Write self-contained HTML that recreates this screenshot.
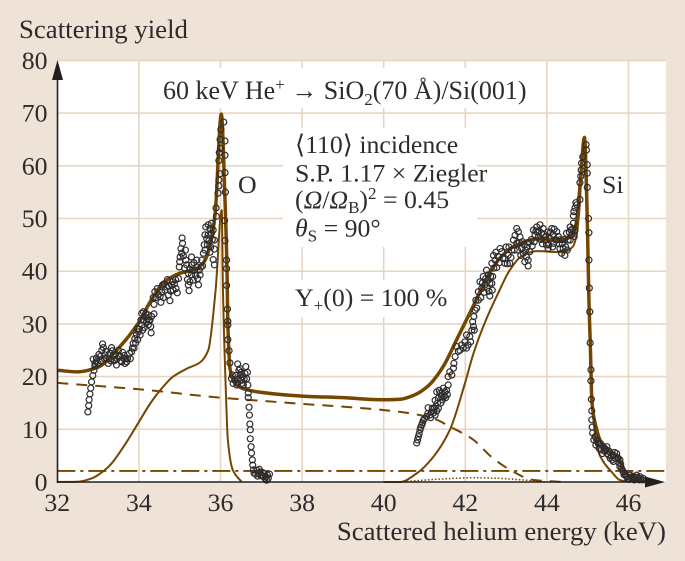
<!DOCTYPE html>
<html lang="en">
<head>
<meta charset="utf-8">
<title>Scattering yield chart</title>
<style>
html,body{margin:0;padding:0;background:#efe3d7;width:685px;height:561px;overflow:hidden}
svg{display:block}
text{font-family:"Liberation Serif","DejaVu Serif",serif;fill:#2f2b2b;font-size:25.8px}
</style>
</head>
<body>
<svg id="chart" width="685" height="561" viewBox="0 0 685 561" xmlns="http://www.w3.org/2000/svg">
  <rect x="0" y="0" width="685" height="561" fill="#efe3d7"/>
  <rect x="57" y="60" width="609" height="422" fill="#ffffff"/>
  <g id="grid"></g>
  <g fill="#ffffff">
    <rect x="150" y="68" width="380" height="40"/>
    <rect x="283" y="128" width="194" height="119"/>
    <rect x="295" y="280" width="155" height="37"/>
  </g>
  <g id="series"></g>
  <g id="points"></g>
  <g id="axes">
    <line x1="57.5" y1="483" x2="57.5" y2="75" stroke="#231f20" stroke-width="1.6"/>
    <polygon points="57.5,60 52,80 63,80" fill="#231f20"/>
    <line x1="57" y1="482" x2="650" y2="482" stroke="#231f20" stroke-width="1.6"/>
    <polygon points="665,482 645,476.5 645,487.5" fill="#231f20"/>
  </g>
  <g id="tick-labels"></g>

  <text x="19" y="38" style="font-size:26.8px">Scattering yield</text>
  <text x="666" y="540" text-anchor="end" style="font-size:26.8px">Scattered helium energy (keV)</text>
  <text x="163" y="99" style="font-size:26px">60 keV He<tspan font-size="17" dy="-9">+</tspan><tspan dy="9"> → SiO</tspan><tspan font-size="17" dy="6">2</tspan><tspan dy="-6">(70 Å)/Si(001)</tspan></text>
  <text x="295" y="153">⟨110⟩ incidence</text>
  <text x="295" y="181.5">S.P. 1.17 × Ziegler</text>
  <text x="295" y="208">(<tspan font-style="italic">Ω</tspan>/<tspan font-style="italic">Ω</tspan><tspan font-size="17" dy="5">B</tspan><tspan dy="-5">)</tspan><tspan font-size="17" dy="-9">2</tspan><tspan dy="9"> = 0.45</tspan></text>
  <text x="295" y="236.5"><tspan font-style="italic">θ</tspan><tspan font-size="17" dy="5">S</tspan><tspan dy="-5"> = 90°</tspan></text>
  <text x="295" y="306">Y<tspan font-size="17" dy="5">+</tspan><tspan dy="-5">(0) = 100 %</tspan></text>
  <text x="238" y="193">O</text>
  <text x="602" y="193">Si</text>
</svg>
<script>
const xTicks = [32, 34, 36, 38, 40, 42, 44, 46];
const yTicks = [0, 10, 20, 30, 40, 50, 60, 70, 80];

const totalFit = [[32,21.2],[32.5,20.9],[33,21.8],[33.5,25.4],[34,30.3],[34.3,34.5],[34.6,37.8],[35,39.6],[35.4,40.4],[35.6,41.8],[35.75,45],[35.87,51],[36.02,69.8],[36.11,53.5],[36.16,40],[36.18,30],[36.24,21.2],[36.4,18.4],[36.6,17.6],[37,17],[38,16.3],[39,16],[40,15.6],[40.4,15.7],[40.75,16.5],[41.1,18.3],[41.45,21.8],[41.8,27.2],[42.17,33],[42.55,39],[42.85,42.5],[43.26,45],[43.75,46.1],[44.4,46],[44.62,46.8],[44.73,49.5],[44.82,57],[44.92,65.4],[44.99,49.7],[45.03,34.5],[45.06,27],[45.08,21.3],[45.1,15.6],[45.22,10],[45.3,8],[45.54,6],[45.75,4.5],[45.95,1.5],[46.2,0.4],[46.5,0]];
const oxygenFit = [[32,0],[32.5,0.05],[32.85,0.7],[33.05,1.6],[33.27,3],[33.7,7.6],[34,11.4],[34.27,14.8],[34.51,17.3],[34.84,20],[35.2,21.6],[35.5,22.7],[35.7,25],[35.88,36.4],[36.03,51.6],[36.06,36.4],[36.13,17.5],[36.18,8],[36.3,2.3],[36.52,0]];
const siliconFit = [[40,0],[40.4,0],[40.82,1.7],[41.21,4.7],[41.62,9.85],[41.99,18.7],[42.2,24.4],[42.52,31],[42.81,35.9],[43.09,40.2],[43.41,43],[43.75,43.8],[44.39,43.6],[44.63,44.6],[44.73,46.9],[44.8,52],[44.9,64.9],[44.98,49.7],[45.03,34.5],[45.08,21],[45.1,15.6],[45.15,11],[45.25,6],[45.37,4],[45.59,1.9],[45.78,0.4],[46.03,0]];
const substrateFit = [[32,18.8],[34,17.6],[36,16],[37.7,15],[40.4,13.3],[41.2,12.1],[41.65,10.4],[42.2,8],[42.65,4.7],[43.1,2.3],[43.66,0.4],[44.4,0]];
const surfaceBump = [[40.4,0],[41,0.35],[41.6,0.65],[42.2,0.8],[42.8,0.7],[43.4,0.4],[44,0]];
const backgroundLevel = [[32,2.1],[46.9,2.1]];

const oxygenPoints = [[32.75,13.3],[32.77,14.5],[32.78,15.6],[32.8,16.7],[32.82,17.8],[32.84,19],[32.87,20.2],[32.9,21.2],[32.92,22],[32.95,22.8],
[32.88,23.3],[32.92,22.5],[32.96,23.5],[33,22.5],[33.05,23.8],[33.09,25],[33.11,26.2],[33.13,25.5],[33.17,24.1],[33.21,23.5],[33.25,22.5],[33.29,24.4],[33.33,25.5],[33.37,24.1],[33.41,23.1],[33.45,22.2],[33.5,25],[33.54,23.8],[33.58,22.8],[33.62,23.5],[33.66,22.5],[33.7,22.8],[33.77,24.4],[33.82,24.7],[33.86,26.3],[33.9,27.2],[33.94,27.9],[33.99,28.5],[34.03,27.9],[33.96,29.1],[34.07,29.8],[34.11,30.7],[34.07,32],[34.11,32.3],[34.15,31.4],[34.19,30.4],[34.23,29.8],[34.27,30.7],[34.3,28.3],[34.29,29.5],[34.37,31.9],[34.31,31.4],[34.23,31.7],
[33.02,24.2],[33.07,23],[33.15,23.4],[33.19,24.8],[33.27,23.4],[33.31,23],[33.35,24.9],[33.39,23],[33.43,24.3],[33.47,23.4],[33.52,24],[33.56,23],[33.6,24.6],[33.64,24],[33.68,23.4],[33.72,23.4],[33.79,23.4],[33.84,25.4],[33.88,25.4],[33.92,26.4],[33.97,27],[34.01,29],[34.05,30.7],[34.09,28.8],[34.13,29.3],[34.17,32],[34.21,31],[34.25,30.7],
[34.37,33.7],[34.35,35],[34.39,36.1],[34.45,36.7],[34.52,35.2],[34.54,34.1],[34.6,35],[34.58,37.4],[34.64,36.4],[34.7,38.4],[34.72,37.2],[34.72,35.5],[34.76,34.4],[34.83,38],[34.84,36.4],[34.91,36.7],[34.94,35.9],[34.97,38.6],[34.99,40.8],[35.01,42.7],[35.05,43.4],[35.03,44.3],[35.07,45.3],[35.06,46.3],[35.14,44],[35.09,42.9],[35.15,42.1],[35.17,41.2],[35.21,39.6],[35.21,37.4],[35.23,36.3],[35.29,42.7],[35.29,41.2],[35.29,39.3],[35.33,38.3],[35.42,40.8],[35.46,37.4],[35.5,39.3],[35.54,42.1],[35.58,43.4],[35.6,45],[35.62,46.9],[35.64,48.4],[35.7,48.8],[35.74,48.1],[35.78,49.1],[35.82,47.8],[35.85,45.9],[35.85,44.2],[35.82,42.2],[35.85,41.2],[35.7,46.9],[35.78,47.2],[35.66,46.2],[35.42,42.1],[35.37,40.2],
[34.42,35],[34.48,35.6],[34.56,36],[34.62,37.6],[34.68,37],[34.78,36.2],[34.8,37.4],[34.87,37.6],[34.9,38.4],[35,41.8],[35.12,40.6],[35.19,38.4],[35.25,40.4],[35.25,38],[35.31,40.2],[35.35,41.6],[35.39,39.2],[35.44,38.6],[35.48,40.2],[35.52,40.8],[35.56,41],[35.62,44],[35.68,45],[35.72,45.8],[35.76,44.6],[35.8,46],[35.74,43.6],
[35.9,50.4],[35.89,52],[35.94,54.8],[35.96,56.2],[35.96,57.3],[35.99,58.5],[35.96,61],[35.97,62.5],[36,63.3],[35.99,65],[36.01,66.9],[36.08,68.3],[36.11,64.7],[36.11,62],[36.11,58.7],[36.12,55],[36.1,49.6],[36.11,45.8],[36.15,42.1],[36.15,40.5],[36.15,37.3],[36.17,32.8],[36.18,30.5],[36.18,29.8],[36.18,27],[36.21,24.9],[36.23,22.6],
[36.27,19.6],[36.31,18.7],[36.35,19.3],[36.4,18.4],[36.42,22.4],[36.45,21.2],[36.48,20.3],[36.44,19.6],[36.52,19.3],[36.56,18.4],[36.62,21.9],[36.6,20.6],[36.64,19.6],[36.67,18.4],[36.48,21.5],[36.52,18.7],[36.29,20.3],[36.38,20.2],[36.42,18.8],[36.5,20.8],[36.54,20],[36.58,19.6],[36.66,20.8],[36.68,16.9],[36.68,16],[36.7,14.2],[36.71,12.7],[36.72,11],[36.73,9.9],[36.73,8.2],[36.75,6.7],[36.76,5.5],[36.78,4.2],[36.79,3.2],[36.81,2.3],[36.82,1.7],[36.89,2.2],[36.93,1.6],[36.97,1.9],[37.01,1.3],[37.05,1],[37.09,0.7],[37.13,0.35],[37.15,1.3],[37.2,1.5],[37.07,1.6],[37.11,1],[36.86,1.5],[36.91,1.1],[36.95,2.4],[36.99,1.2],[37.03,1.8],[37.17,0.7]];

const siliconPoints = [[40.81,7.4],[40.85,8.6],[40.89,9.9],[40.93,10.8],[40.97,11.7],[41.05,12.4],[41.13,12.7],[41.22,13.1],[41.26,12.7],[41.09,14.1],[41.3,13.5],[41.26,15.5],[41.3,17.1],[41.38,16.8],[41.46,17.8],[41.54,17.4],[41.58,18.4],[41.34,15.9],[41.42,16.2],[41.5,17.1],[41.17,13.3],
[40.83,8],[40.87,9.2],[40.91,10.4],[40.95,11.2],[41,12],[41.08,13],[41.15,12.2],[41.19,14],[41.24,14],[41.28,14.4],[41.32,15],[41.36,17.4],[41.4,15],[41.44,15.6],[41.48,16.2],[41.52,16],[41.56,16.6],[41.34,14],
[41.58,20],[41.67,20.3],[41.62,20.9],[41.71,21.6],[41.72,22.5],[41.75,23.8],[41.79,25.7],[41.87,25],[41.91,26],[41.99,26.6],[42.07,26],[42.11,27.6],[42.03,27.9],[42.16,28.8],[42.2,29.5],[42.18,30.4],[42.21,31.4],[42.24,32.6],[42.26,34.5],[42.32,34.5],[42.32,36.1],[42.4,36.7],[42.36,38],[42.44,39],[42.52,40.2],[42.56,39.3],[42.6,37.7],[42.6,35.3],[42.66,36.4],[42.65,37.7],[42.67,39],[42.56,38.3],[42.48,37.4],[42.65,41.5],[42.69,43],[42.73,42.1],[42.77,40.7],[42.85,44.3],[42.89,43.7],[42.97,41.5],[43.09,41.5],[42.97,42.4],[43.05,43],[43.14,44],[43.18,45.9],[43.26,48.1],[43.3,47.5],[43.34,46.5],[43.26,45.3],[43.38,44.3],[43.42,43.4],[43.5,42.7],[43.46,41.8],[43.54,41],[43.54,42.1],[43.58,43.7],[43.67,47.8],[43.75,48.4],[43.83,48.8],[43.91,48.1],[43.71,46.9],[43.79,46.5],[43.87,47.2],[43.95,45.9],[43.99,45],[44.03,44.3],[44.12,48.1],[44.16,46.9],[44.24,47.5],[44.07,46.2],[44.16,45.3],[44.24,45.9],[44.32,44.3],[44.36,43.4],[44.44,43],[44.4,44.3],[44.52,45.9],[44.48,47.2],[44.57,48.4],[44.65,49.1],[44.69,47.8],[44.61,46.9],[44.57,45.9],
[41.83,24.8],[41.95,25.4],[42.03,25.4],[42.13,26.6],[42.22,28.8],[42.28,33],[42.38,35],[42.42,37.8],[42.46,36],[42.5,38.6],[42.54,36.8],[42.58,36.2],[42.62,39],[42.7,40.6],[42.75,43.6],[42.8,42.8],[42.83,41.6],[42.92,42.4],[43,44.6],[43.03,41.4],[43.07,44.6],[43.12,42.6],[43.2,44],[43.22,46.8],[43.28,44],[43.32,45.4],[43.36,43],[43.4,45.6],[43.44,45],[43.48,44],[43.52,44.6],[43.56,45.4],[43.62,46],[43.64,44.8],[43.69,45.6],[43.73,47.6],[43.77,47.4],[43.81,47.6],[43.85,46],[43.89,45.2],[43.93,47],[43.97,46.6],[44.01,47.4],[44.05,45],[44.09,47.4],[44.14,44.6],[44.18,48],[44.2,46],[44.28,46.6],[44.3,45.2],[44.34,46],[44.38,45.2],[44.42,46],[44.46,44.6],[44.5,44],[44.55,47.4],[44.59,47.8],[44.63,48],[44.67,46.6],
[44.96,64],[44.97,63],[44.88,61.7],[44.85,60.5],[44.99,60.2],[44.84,59.2],[44.99,58.6],[44.83,58],[44.81,56.8],[44.99,55.9],[44.81,53.6],[44.71,53],[44.69,52],[44.66,51.3],[44.65,50.5],[44.73,52.6],[45.02,50],[45.03,47.3],[45.03,42.1],[45.04,36.8],[45.05,32.3],[45.06,26.4],[45.08,21.3],[45.08,19.2],[45.09,15.7],[45.1,13.5],[45.1,11.8],[45.11,10.4],[45.12,9.3],[45.18,8.6],[45.22,8],[45.3,7.3],[45.38,6.7],[45.47,6.7],[45.34,6.1],[45.51,5.1],[45.63,5.1],[45.71,5.4],[45.75,4.5],[45.63,3.9],[45.79,2.9],[45.87,2],[45.96,1],[46.04,1.3],[46.12,0.7],[46.2,1.3],[46.28,1],[46.36,0.7],[45.26,7.3],[45.42,5.8],[45.55,4.5],[45.79,4.2],[45.83,2.6],[45.91,1.6],[46,0.7],[46.08,0.7],[46.16,0.5],[46.24,0.5],
[45.15,8],[45.2,7],[45.24,7.6],[45.28,6.4],[45.32,7.2],[45.36,5.4],[45.4,6.4],[45.44,6.2],[45.48,5.4],[45.53,5.8],[45.58,5],[45.6,4.2],[45.66,5.6],[45.69,4.4],[45.73,4.6],[45.77,3.6],[45.81,3.4],[45.85,2.2],[45.89,1.4],[45.93,1.2],[45.98,0.6],[46.02,0.5],[46.06,0.9],[46.1,1.1],[46.14,0.4],[46.18,0.9],[46.22,0.9],[46.26,0.4],[46.3,0.6],[46.34,0.4]];

function xScale(energy) { return 57.3 + (energy - 32) * 40.8; }
function yScale(count) { return 482 - count * 5.27; }

const NS = 'http://www.w3.org/2000/svg';

function smoothPath(data) {
  const px = data.map(d => xScale(d[0]));
  const py = data.map(d => yScale(d[1]));
  const n = px.length;
  if (n < 3) return 'M' + px[0] + ',' + py[0] + 'L' + px[n - 1] + ',' + py[n - 1];
  const slope = [];
  for (let i = 0; i < n - 1; i++) slope.push((py[i + 1] - py[i]) / (px[i + 1] - px[i]));
  const tan = [slope[0]];
  for (let i = 1; i < n - 1; i++) {
    if (slope[i - 1] * slope[i] <= 0) { tan.push(0); continue; }
    const h0 = px[i] - px[i - 1];
    const h1 = px[i + 1] - px[i];
    tan.push(3 * (h0 + h1) / ((2 * h1 + h0) / slope[i - 1] + (h1 + 2 * h0) / slope[i]));
  }
  tan.push(slope[n - 2]);
  let d = 'M' + px[0].toFixed(2) + ',' + py[0].toFixed(2);
  for (let i = 0; i < n - 1; i++) {
    const h = (px[i + 1] - px[i]) / 3;
    d += 'C' + (px[i] + h).toFixed(2) + ',' + (py[i] + tan[i] * h).toFixed(2) + ' ' +
         (px[i + 1] - h).toFixed(2) + ',' + (py[i + 1] - tan[i + 1] * h).toFixed(2) + ' ' +
         px[i + 1].toFixed(2) + ',' + py[i + 1].toFixed(2);
  }
  return d;
}

const gridGroup = document.getElementById('grid');
yTicks.filter(v => v > 0).forEach(v => {
  const line = document.createElementNS(NS, 'line');
  
  
  line.setAttribute('x1', xScale(32));
  line.setAttribute('x2', 666);
  line.setAttribute('y1', yScale(v));
  line.setAttribute('y2', yScale(v));
  line.setAttribute('stroke', '#e8d6c3');
  line.setAttribute('stroke-width', '1.6');
  gridGroup.appendChild(line);
});
xTicks.filter(v => v > 32).forEach(v => {
  const line = document.createElementNS(NS, 'line');
  
  
  line.setAttribute('x1', xScale(v));
  line.setAttribute('x2', xScale(v));
  line.setAttribute('y1', yScale(80));
  line.setAttribute('y2', yScale(0));
  line.setAttribute('stroke', '#e8d6c3');
  line.setAttribute('stroke-width', '1.6');
  gridGroup.appendChild(line);
});

const seriesGroup = document.getElementById('series');
function addCurve(data, name, width, dash) {
  const path = document.createElementNS(NS, 'path');
  
  
  path.setAttribute('d', smoothPath(data));
  path.setAttribute('fill', 'none');
  path.setAttribute('stroke', '#744600');
  path.setAttribute('stroke-width', width);
  path.setAttribute('stroke-linejoin', 'round');
  if (dash) path.setAttribute('stroke-dasharray', dash);
  seriesGroup.appendChild(path);
}
addCurve(backgroundLevel, 'background-level-line', 1.8, '18 5 3 5');
addCurve(surfaceBump, 'surface-contribution-curve', 1.5, '1.5 2');
addCurve(substrateFit, 'substrate-dashed-curve', 2, '11 8');
addCurve(oxygenFit, 'oxygen-fit-curve', 2, '');
addCurve(siliconFit, 'silicon-fit-curve', 2, '');
addCurve(totalFit, 'total-fit-curve', 3.5, '');

const pointGroup = document.getElementById('points');
oxygenPoints.concat(siliconPoints).forEach(p => {
  const c = document.createElementNS(NS, 'circle');
  
  
  c.setAttribute('cx', xScale(p[0]).toFixed(2));
  c.setAttribute('cy', yScale(p[1]).toFixed(2));
  c.setAttribute('r', '3');
  c.setAttribute('fill', 'none');
  c.setAttribute('stroke', '#2f2c2c');
  c.setAttribute('stroke-width', '1.2');
  pointGroup.appendChild(c);
});

const labelGroup = document.getElementById('tick-labels');
yTicks.forEach(v => {
  const t = document.createElementNS(NS, 'text');
  
  
  t.setAttribute('x', 47.5);
  t.setAttribute('y', yScale(v) + 8.5);
  t.setAttribute('text-anchor', 'end');
  t.textContent = v;
  labelGroup.appendChild(t);
});
xTicks.forEach(v => {
  const t = document.createElementNS(NS, 'text');
  
  
  t.setAttribute('x', xScale(v));
  t.setAttribute('y', 511);
  t.setAttribute('text-anchor', 'middle');
  t.textContent = v;
  labelGroup.appendChild(t);
});
</script>
</body>
</html>
